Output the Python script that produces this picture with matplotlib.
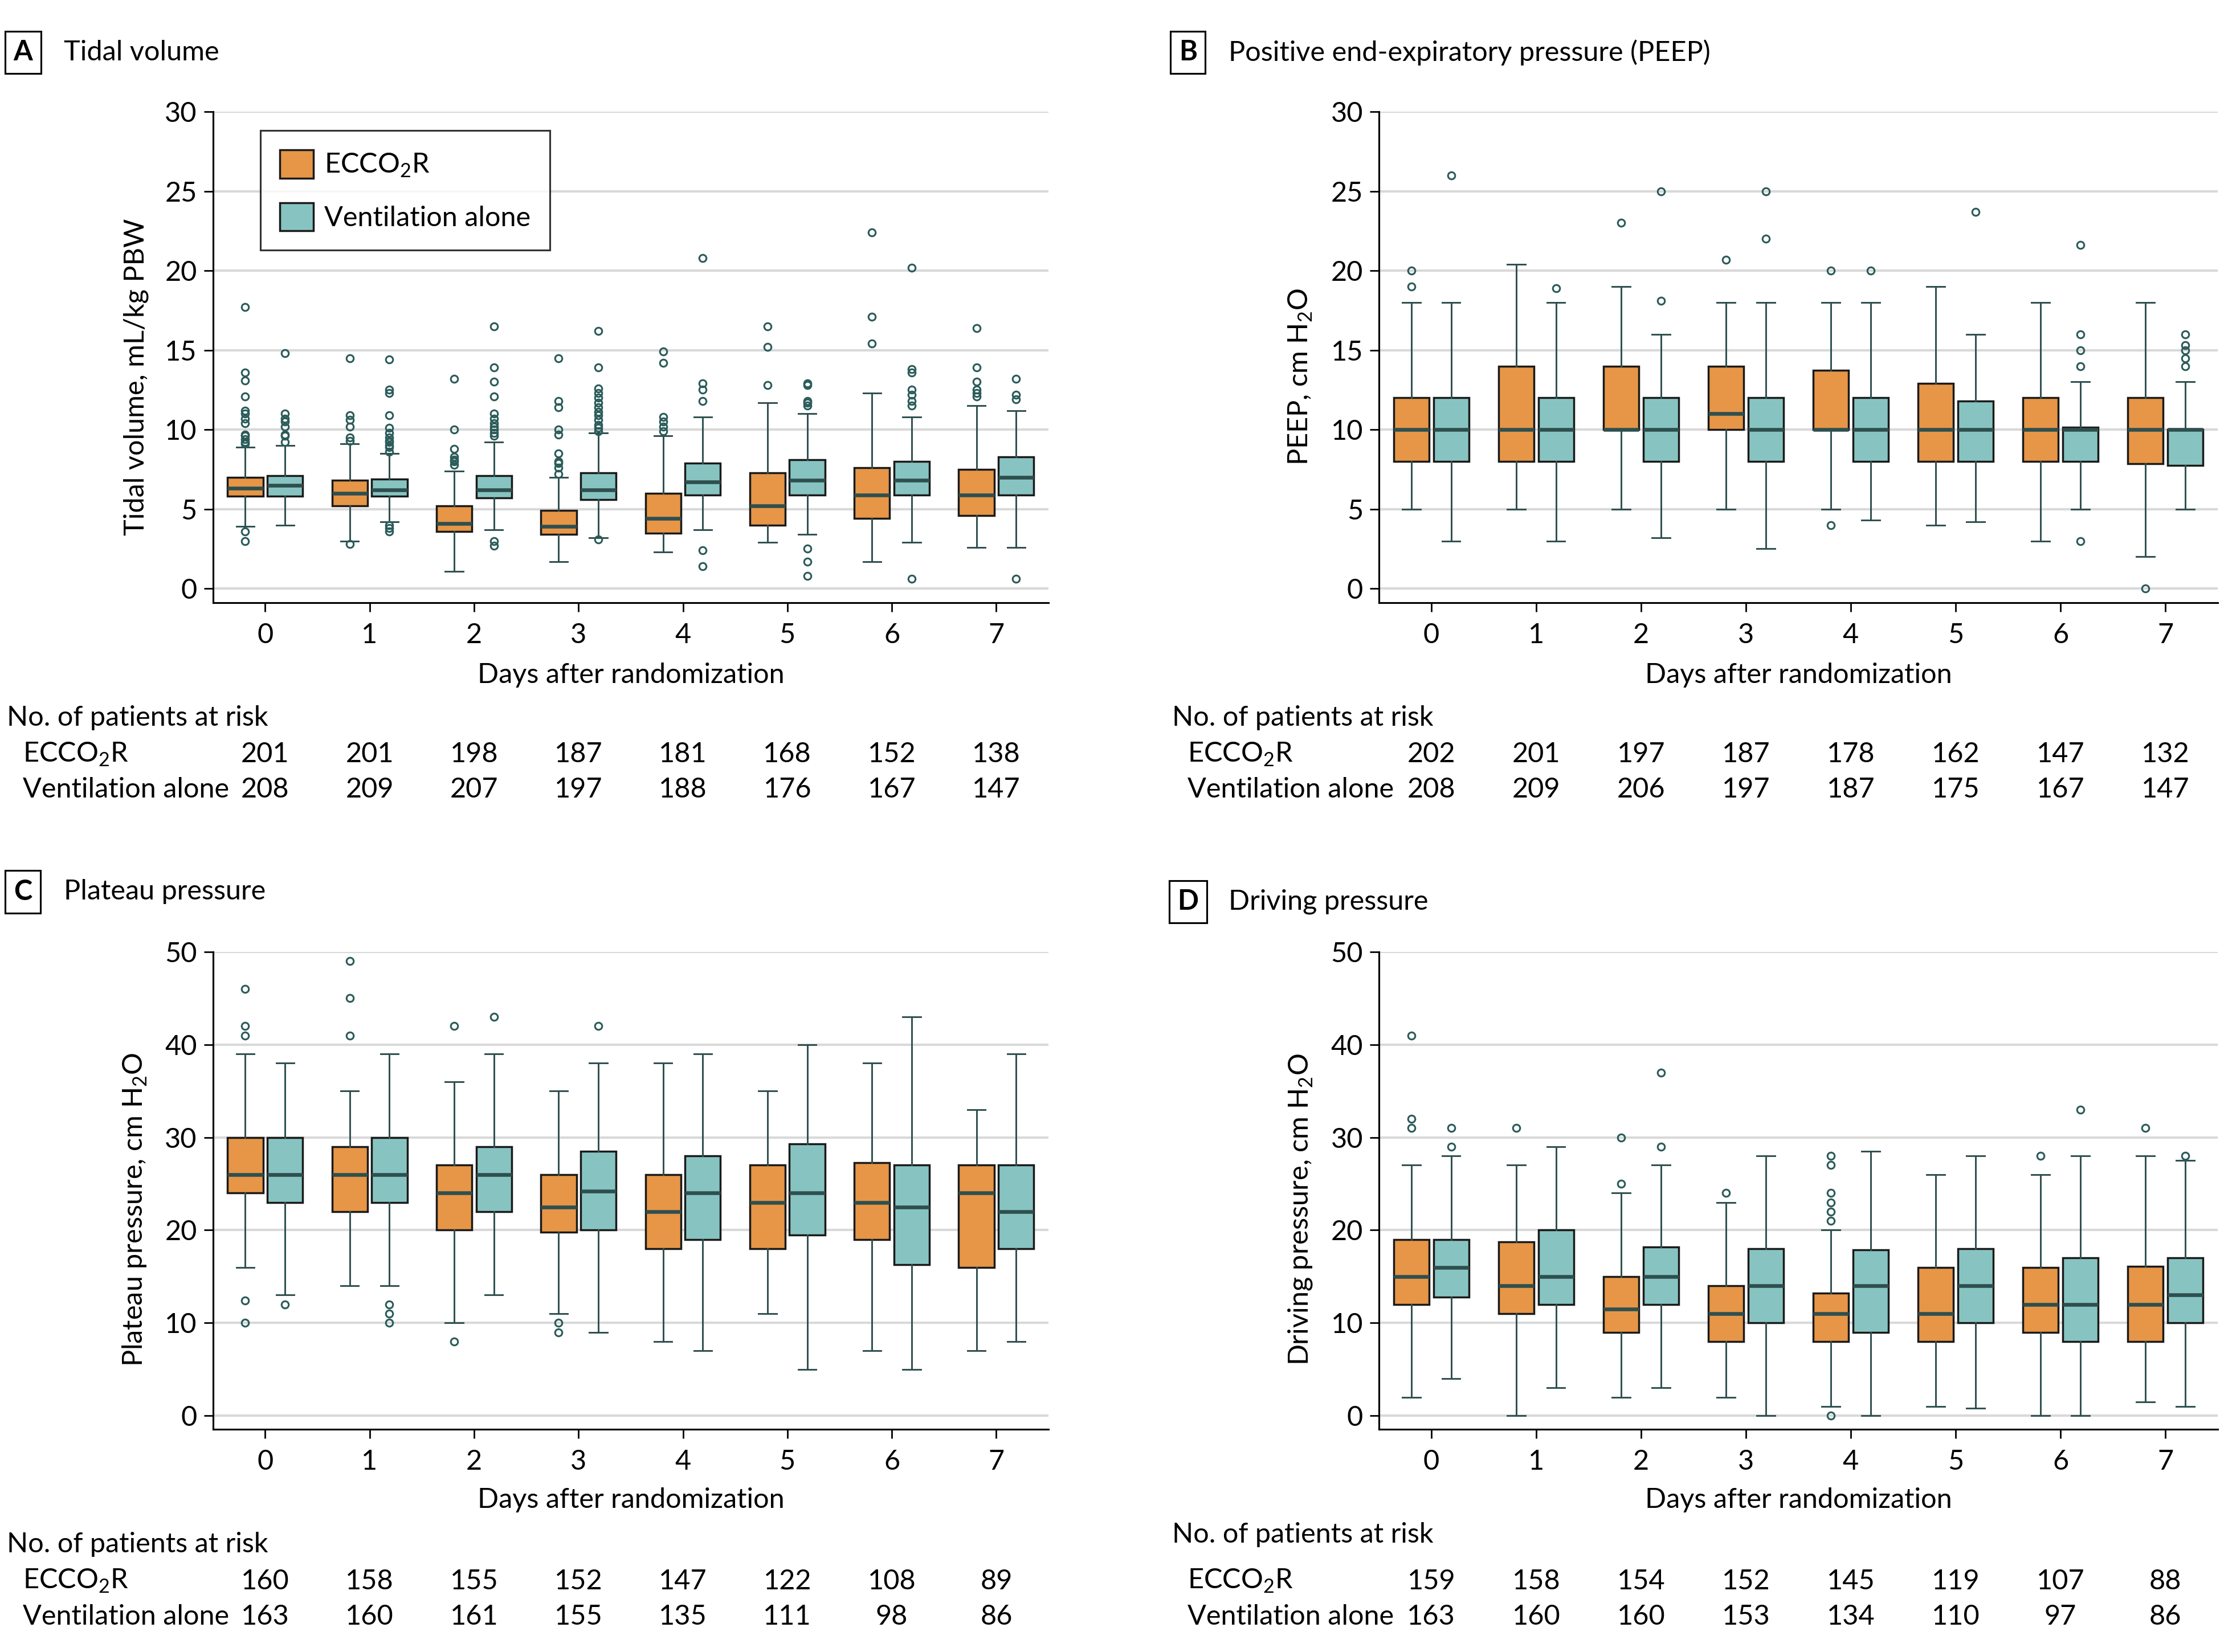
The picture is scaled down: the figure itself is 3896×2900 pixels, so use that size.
import numpy as np
import matplotlib
matplotlib.use("Agg")
import matplotlib.pyplot as plt
from matplotlib.patches import Patch
from matplotlib.transforms import blended_transform_factory

plt.rcParams['font.family'] = ['Lato', 'DejaVu Sans']
plt.rcParams['mathtext.fontset'] = 'custom'
plt.rcParams['mathtext.rm'] = 'Lato'

days = [0, 1, 2, 3, 4, 5, 6, 7]
groups = ['ECCO$_\\mathregular{2}$R', 'Ventilation alone']

# box stats per day: (whisker low, Q1, median, Q3, whisker high)
tv_ecco = [(3.9, 5.8, 6.3, 7.0, 8.9), (3.0, 5.2, 6.0, 6.8, 9.1), (1.1, 3.6, 4.1, 5.2, 7.4),
           (1.7, 3.4, 3.9, 4.9, 7.0), (2.3, 3.5, 4.4, 6.0, 9.6), (2.9, 4.0, 5.2, 7.3, 11.7),
           (1.7, 4.4, 5.9, 7.6, 12.3), (2.6, 4.6, 5.9, 7.5, 11.5)]
tv_ecco_out = [[17.7, 13.6, 13.1, 12.1, 11.2, 11.0, 10.7, 10.4, 9.7, 9.6, 9.4, 9.2, 9.1, 3.6, 3.0],
               [14.5, 10.9, 10.6, 10.2, 9.5, 9.3, 2.8],
               [13.2, 10.0, 8.8, 8.3, 8.1, 8.0, 7.8],
               [14.5, 11.8, 11.4, 10.0, 9.7, 8.5, 8.0, 7.9, 7.6, 7.2],
               [14.9, 14.2, 10.8, 10.5, 10.2, 9.9],
               [16.5, 15.2, 12.8],
               [22.4, 17.1, 15.4],
               [16.4, 13.9, 13.0, 12.5, 12.3, 12.1]]
tv_vent = [(4.0, 5.8, 6.5, 7.1, 9.0), (4.2, 5.8, 6.2, 6.9, 8.5), (3.7, 5.7, 6.2, 7.1, 9.2),
           (3.2, 5.6, 6.2, 7.3, 9.8), (3.7, 5.9, 6.7, 7.9, 10.8), (3.4, 5.9, 6.8, 8.1, 11.0),
           (2.9, 5.9, 6.8, 8.0, 10.8), (2.6, 5.9, 7.0, 8.3, 11.2)]
tv_vent_out = [[14.8, 11.0, 10.7, 10.5, 10.2, 9.7, 9.6, 9.2],
               [14.4, 12.5, 12.3, 10.9, 10.1, 9.8, 9.5, 9.3, 9.2, 9.0, 8.9, 8.6, 4.0, 3.8, 3.6],
               [16.5, 13.9, 13.0, 12.1, 11.0, 10.7, 10.4, 10.2, 10.0, 9.8, 9.6, 3.0, 2.7],
               [16.2, 13.9, 12.6, 12.3, 12.0, 11.7, 11.4, 11.1, 10.9, 10.6, 10.3, 10.1, 9.9, 3.1],
               [20.8, 12.9, 12.5, 11.8, 2.4, 1.4],
               [12.9, 12.8, 11.8, 11.7, 11.5, 2.5, 1.7, 0.8],
               [20.2, 13.8, 13.6, 12.5, 12.2, 11.8, 11.5, 0.6],
               [13.2, 12.2, 11.9, 0.6]]

peep_ecco = [(5, 8, 10, 12, 18), (5, 8, 10, 14, 20.4), (5, 10, 10, 14, 19), (5, 10, 11, 14, 18),
             (5, 10, 10, 13.75, 18), (4, 8, 10, 12.9, 19), (3, 8, 10, 12, 18), (2, 7.85, 10, 12, 18)]
peep_ecco_out = [[20, 19], [], [23], [20.7], [20, 4], [], [], [0]]
peep_vent = [(3, 8, 10, 12, 18), (3, 8, 10, 12, 18), (3.2, 8, 10, 12, 16), (2.5, 8, 10, 12, 18),
             (4.3, 8, 10, 12, 18), (4.2, 8, 10, 11.8, 16), (5, 8, 10, 10.16, 13), (5, 7.75, 10, 10, 13)]
peep_vent_out = [[26], [18.9], [25, 18.1], [25, 22], [20], [23.7],
                 [21.6, 16, 15, 14, 3], [16, 15.3, 15, 14.5, 14]]

pp_ecco = [(16, 24, 26, 30, 39), (14, 22, 26, 29, 35), (10, 20, 24, 27, 36), (11, 19.8, 22.5, 26, 35),
           (8, 18, 22, 26, 38), (11, 18, 23, 27, 35), (7, 19, 23, 27.3, 38), (7, 16, 24, 27, 33)]
pp_ecco_out = [[46, 42, 41, 12.4, 10], [49, 45, 41], [42, 8], [10, 9], [], [], [], []]
pp_vent = [(13, 23, 26, 30, 38), (14, 23, 26, 30, 39), (13, 22, 26, 29, 39), (9, 20, 24.2, 28.5, 38),
           (7, 19, 24, 28, 39), (5, 19.5, 24, 29.3, 40), (5, 16.3, 22.5, 27, 43), (8, 18, 22, 27, 39)]
pp_vent_out = [[12], [12, 11, 10], [43], [42], [], [], [], []]

dp_ecco = [(2, 12, 15, 19, 27), (0, 11, 14, 18.75, 27), (2, 9, 11.5, 15, 24), (2, 8, 11, 14, 23),
           (1, 8, 11, 13.2, 20), (1, 8, 11, 16, 26), (0, 9, 12, 16, 26), (1.5, 8, 12, 16.1, 28)]
dp_ecco_out = [[41, 32, 31], [31], [30, 25], [24], [28, 27, 24, 23, 22, 21, 0], [], [28], [31]]
dp_vent = [(4, 12.8, 16, 19, 28), (3, 12, 15, 20, 29), (3, 12, 15, 18.2, 27), (0, 10, 14, 18, 28),
           (0, 9, 14, 17.9, 28.5), (0.8, 10, 14, 18, 28), (0, 8, 12, 17, 28), (1, 10, 13, 17, 27.5)]
dp_vent_out = [[31, 29], [], [37, 29], [], [], [], [33], [28]]

# numbers at risk
risk_a_ecco = [201, 201, 198, 187, 181, 168, 152, 138]
risk_a_vent = [208, 209, 207, 197, 188, 176, 167, 147]
risk_b_ecco = [202, 201, 197, 187, 178, 162, 147, 132]
risk_b_vent = [208, 209, 206, 197, 187, 175, 167, 147]
risk_c_ecco = [160, 158, 155, 152, 147, 122, 108, 89]
risk_c_vent = [163, 160, 161, 155, 135, 111, 98, 86]
risk_d_ecco = [159, 158, 154, 152, 145, 119, 107, 88]
risk_d_vent = [163, 160, 160, 153, 134, 110, 97, 86]

orange = '#E69646'
teal = '#87C4C1'
dark = '#2F4F4F'
FS = 14

fig = plt.figure(figsize=(15.584, 11.6), dpi=250)


def make_stats(rows, outs):
    st = []
    for (lo, q1, med, q3, hi), fl in zip(rows, outs):
        st.append(dict(whislo=lo, q1=q1, med=med, q3=q3, whishi=hi, fliers=fl))
    return st


def panel(rect, letter, title, title_y, ylabel, ymax, yticks, ecco, ecco_out, vent, vent_out,
          r_ecco, r_vent, head_y, rows_y, text_x):
    ax = fig.add_axes(rect)
    pos = np.array(days, dtype=float)
    for rows, outs, off, col in [(ecco, ecco_out, -0.19, orange), (vent, vent_out, 0.19, teal)]:
        ax.bxp(make_stats(rows, outs), positions=pos + off, widths=0.34, patch_artist=True,
               boxprops=dict(facecolor=col, edgecolor='#1a1a1a', linewidth=1.0),
               medianprops=dict(color=dark, linewidth=1.9),
               whiskerprops=dict(color=dark, linewidth=0.85),
               capprops=dict(color=dark, linewidth=0.85),
               flierprops=dict(marker='o', markerfacecolor='none', markeredgecolor='#2B5C5A',
                               markersize=3.6, markeredgewidth=0.9))
    ax.set_xlim(-0.5, 7.5)
    ax.set_ylim(-ymax * 0.0295, ymax)
    ax.set_xticks(days)
    ax.set_xticklabels([str(d) for d in days])
    ax.set_yticks(yticks)
    ax.yaxis.grid(True, color='#d9d9d9', linewidth=1.2)
    ax.set_axisbelow(True)
    for s in ['top', 'right']:
        ax.spines[s].set_visible(False)
    for s in ['left', 'bottom']:
        ax.spines[s].set_linewidth(0.9)
    ax.tick_params(direction='out', length=4.5, width=0.8, labelsize=FS, colors='black')
    ax.tick_params(axis='x', pad=5.5)
    ax.set_ylabel(ylabel, fontsize=FS)
    ax.yaxis.set_label_coords(-0.077, 0.46)
    ax.set_xlabel('Days after randomization', fontsize=FS)
    ax.xaxis.set_label_coords(0.5, -0.122)

    fig.text(text_x + 0.0071, title_y, letter, fontsize=FS, fontweight='bold', ha='center', va='center',
             bbox=dict(boxstyle='square,pad=0.3', facecolor='white', edgecolor='black', linewidth=0.9))
    fig.text(text_x + 0.0255, title_y, title, fontsize=FS, ha='left', va='center')

    tr = blended_transform_factory(ax.transData, fig.transFigure)
    fig.text(text_x, head_y, 'No. of patients at risk', fontsize=FS, ha='left', va='center')
    fig.text(text_x + 0.007, rows_y[0], groups[0], fontsize=FS, ha='left', va='center')
    fig.text(text_x + 0.007, rows_y[1], groups[1], fontsize=FS, ha='left', va='center')
    for d, a, b in zip(days, r_ecco, r_vent):
        ax.text(d, rows_y[0], str(a), transform=tr, fontsize=FS, ha='center', va='center')
        ax.text(d, rows_y[1], str(b), transform=tr, fontsize=FS, ha='center', va='center')
    return ax


h2o = 'cm H$_\\mathregular{2}$O'
ax_a = panel([0.0959, 0.6352, 0.3764, 0.2972], 'A', 'Tidal volume', 0.9683,
             'Tidal volume, mL/kg PBW', 30, [0, 5, 10, 15, 20, 25, 30],
             tv_ecco, tv_ecco_out, tv_vent, tv_vent_out, risk_a_ecco, risk_a_vent,
             0.5656, (0.5433, 0.5219), 0.0032)
ax_b = panel([0.6211, 0.6352, 0.3779, 0.2972], 'B', 'Positive end-expiratory pressure (PEEP)', 0.9683,
             'PEEP, ' + h2o, 30, [0, 5, 10, 15, 20, 25, 30],
             peep_ecco, peep_ecco_out, peep_vent, peep_vent_out, risk_b_ecco, risk_b_vent,
             0.5656, (0.5433, 0.5219), 0.528)
ax_c = panel([0.0959, 0.1348, 0.3764, 0.2890], 'C', 'Plateau pressure', 0.4602,
             'Plateau pressure, ' + h2o, 50, [0, 10, 20, 30, 40, 50],
             pp_ecco, pp_ecco_out, pp_vent, pp_vent_out, risk_c_ecco, risk_c_vent,
             0.0651, (0.0429, 0.0214), 0.0032)
ax_d = panel([0.6211, 0.1348, 0.3779, 0.2890], 'D', 'Driving pressure', 0.4542,
             'Driving pressure, ' + h2o, 50, [0, 10, 20, 30, 40, 50],
             dp_ecco, dp_ecco_out, dp_vent, dp_vent_out, risk_d_ecco, risk_d_vent,
             0.0711, (0.0429, 0.0214), 0.528)

handles = [Patch(facecolor=orange, edgecolor='#1a1a1a', linewidth=1.0, label=groups[0]),
           Patch(facecolor=teal, edgecolor='#1a1a1a', linewidth=1.0, label=groups[1])]
leg = ax_a.legend(handles=handles, loc='upper left', bbox_to_anchor=(0.057, 0.962),
                  fontsize=FS, frameon=True, fancybox=False, edgecolor='black',
                  handlelength=1.2, handleheight=1.2, handletextpad=0.4,
                  labelspacing=0.85, borderpad=0.7, borderaxespad=0)
leg.get_frame().set_linewidth(0.9)

fig.savefig('out.png', dpi=250, facecolor='white')
